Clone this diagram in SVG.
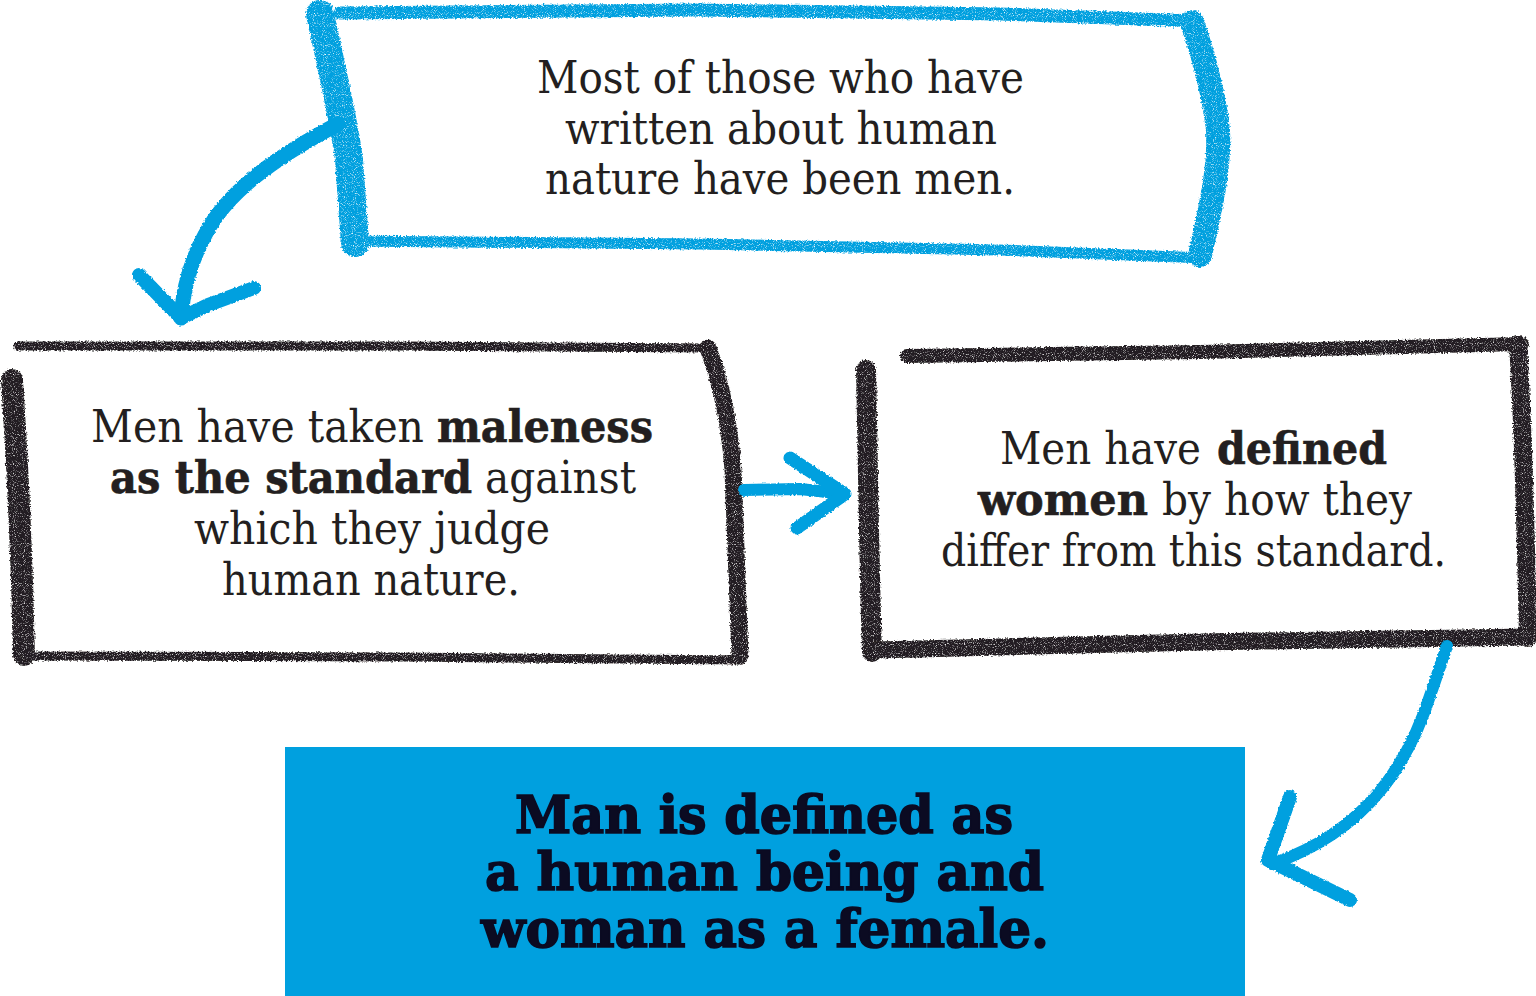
<svg xmlns="http://www.w3.org/2000/svg" width="1536" height="996" viewBox="0 0 1536 996">
<defs>
<style>
.blue{stroke:#00A0DF;fill:none;stroke-linecap:round;stroke-linejoin:round}
.blk{stroke:#231F20;fill:none;stroke-linecap:round;stroke-linejoin:round}
.arr{stroke:#00A0DF;fill:none;stroke-linecap:round;stroke-linejoin:round}
.r{font-family:"DejaVu Serif","Liberation Serif",serif;font-size:44px;fill:#231F20}
.b{font-family:"DejaVu Serif","Liberation Serif",serif;font-size:44px;font-weight:bold;fill:#231F20;stroke:#231F20;stroke-width:0.6}
.bb{font-family:"DejaVu Serif","Liberation Serif",serif;font-size:52px;font-weight:bold;fill:#0B0B22;stroke:#0B0B22;stroke-width:1.6}
</style>
<filter id="crayon" filterUnits="userSpaceOnUse" x="0" y="0" width="1536" height="996">
<feTurbulence type="fractalNoise" baseFrequency="0.6" numOctaves="2" seed="3" result="n"/>
<feDisplacementMap in="SourceGraphic" in2="n" scale="4" xChannelSelector="R" yChannelSelector="G" result="d"/>
<feTurbulence type="fractalNoise" baseFrequency="1.1" numOctaves="1" seed="8" result="n2"/>
<feColorMatrix in="n2" type="matrix" values="0 0 0 0 0  0 0 0 0 0  0 0 0 0 0  -3.5 0 0 0 2.9" result="m"/>
<feComposite in="d" in2="m" operator="in"/>
</filter>
<filter id="rough" filterUnits="userSpaceOnUse" x="0" y="0" width="1536" height="996">
<feTurbulence type="fractalNoise" baseFrequency="0.5" numOctaves="2" seed="5" result="n"/>
<feDisplacementMap in="SourceGraphic" in2="n" scale="3" xChannelSelector="R" yChannelSelector="G"/>
</filter>
</defs>

<g id="node-top" filter="url(#crayon)">
<path class="blue" stroke-width="28" d="M320,14 C332,70 344,120 349,160 L355,243"/>
<path class="blue" stroke-width="13" d="M340,13 L700,10 L1000,14 L1196,21"/>
<path class="blue" stroke-width="24" d="M1192,22 C1205,60 1214,95 1218,130 C1220,170 1210,210 1200,255"/>
<path class="blue" stroke-width="11" d="M346,241 L700,244 L1000,250 L1204,258"/>
</g>
<g id="node-top-text">
<text class="r" x="537" y="93" textLength="487" lengthAdjust="spacingAndGlyphs">Most of those who have</text>
<text class="r" x="565" y="144" textLength="432" lengthAdjust="spacingAndGlyphs">written about human</text>
<text class="r" x="545" y="194" textLength="470" lengthAdjust="spacingAndGlyphs">nature have been men.</text>
</g>

<g id="node-left" filter="url(#crayon)">
<path class="blk" stroke-width="9" d="M18,346 L400,346 L712,348"/>
<path class="blk" stroke-width="22" d="M12,380 C18,470 22,560 24,655"/>
<path class="blk" stroke-width="9" d="M26,656 L400,657 L742,660"/>
<path class="blk" stroke-width="17" d="M708,348 C722,385 730,430 733,470 L740,656"/>
</g>
<g id="node-left-text">
<text class="r" x="91" y="442" textLength="333" lengthAdjust="spacingAndGlyphs">Men have taken</text>
<text class="b" x="437" y="442" textLength="216" lengthAdjust="spacingAndGlyphs">maleness</text>
<text class="b" x="110" y="493" textLength="362" lengthAdjust="spacingAndGlyphs">as the standard</text>
<text class="r" x="485" y="493" textLength="151" lengthAdjust="spacingAndGlyphs">against</text>
<text class="r" x="194" y="544" textLength="356" lengthAdjust="spacingAndGlyphs">which they judge</text>
<text class="r" x="222" y="595" textLength="298" lengthAdjust="spacingAndGlyphs">human nature.</text>
</g>

<g id="node-right" filter="url(#crayon)">
<path class="blk" stroke-width="14" d="M907,356 L1200,352 L1522,344"/>
<path class="blk" stroke-width="20" d="M866,370 C868,460 869,560 872,652"/>
<path class="blk" stroke-width="18" d="M1518,344 C1524,440 1526,540 1528,638"/>
<path class="blk" stroke-width="17" d="M874,650 L1200,642 L1528,637"/>
</g>
<g id="node-right-text">
<text class="r" x="1000" y="464" textLength="201" lengthAdjust="spacingAndGlyphs">Men have</text>
<text class="b" x="1217" y="464" textLength="170" lengthAdjust="spacingAndGlyphs">defined</text>
<text class="b" x="978" y="515" textLength="170" lengthAdjust="spacingAndGlyphs">women</text>
<text class="r" x="1162" y="515" textLength="250" lengthAdjust="spacingAndGlyphs">by how they</text>
<text class="r" x="941" y="566" textLength="505" lengthAdjust="spacingAndGlyphs">differ from this standard.</text>
</g>

<g id="node-bottom">
<rect x="285" y="747" width="960" height="249" fill="#00A0DF"/>
<text class="bb" x="515" y="833" textLength="498" lengthAdjust="spacingAndGlyphs">Man is defined as</text>
<text class="bb" x="485" y="890" textLength="559" lengthAdjust="spacingAndGlyphs">a human being and</text>
<text class="bb" x="481" y="947" textLength="568" lengthAdjust="spacingAndGlyphs">woman as a female.</text>
</g>

<g id="connectors" filter="url(#rough)">
<path class="arr" stroke-width="15" d="M338,124 C270,160 225,195 205,235 C190,262 183,290 181,318"/>
<path class="arr" stroke-width="14" d="M139,275 L181,318 L208,305 L254,288"/>
<path class="arr" stroke-width="12" d="M744,490 L800,489 L845,494"/>
<path class="arr" stroke-width="13" d="M790,458 L845,494 L797,528"/>
<path class="arr" stroke-width="12" d="M1447,646 L1432,690 C1410,760 1370,830 1272,864"/>
<path class="arr" stroke-width="14" d="M1290,797 L1268,860 L1350,900"/>
</g>
</svg>
